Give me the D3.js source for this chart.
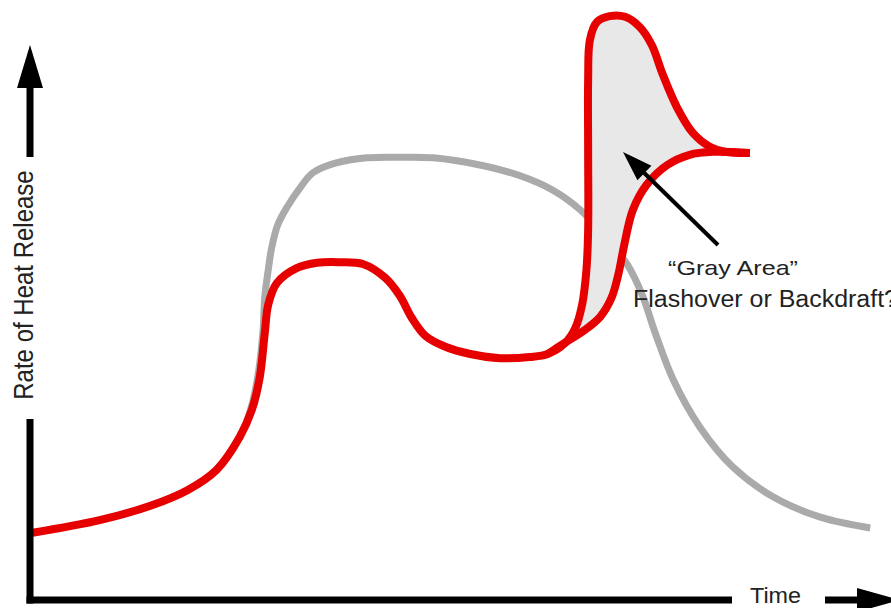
<!DOCTYPE html>
<html>
<head>
<meta charset="utf-8">
<script src="https://cdn.jsdelivr.net/npm/d3@7"></script>
<style>
  body { margin: 0; background: #fff; }
  svg { display: block; font-family: "Liberation Sans", Arial, sans-serif; }
</style>
</head>
<body>
<div id="chart"></div>
<script>
// Normal fire development (gray) : [time, rate of heat release]
const normalFire = [
    [0.3, 11.2], [8.1, 13.3], [14.0, 15.7], [18.3, 18.3], [21.7, 21.7], [24.4, 27.2],
    [25.8, 32.5], [26.6, 38.3], [27.1, 45.0], [27.3, 50.5], [27.7, 55.0], [28.1, 58.7],
    [28.8, 62.5], [29.9, 65.5], [31.4, 68.7], [32.9, 71.2], [35.5, 72.8], [39.2, 73.7],
    [43.0, 73.8], [46.9, 73.7], [52.3, 72.5], [57.0, 70.7], [60.8, 68.3], [64.0, 65.0],
    [67.2, 60.0], [69.5, 55.8], [71.2, 50.8], [72.7, 44.5], [74.8, 36.7], [77.9, 28.8],
    [81.7, 22.2], [86.4, 17.2], [91.9, 13.8], [97.7, 12.0]
];

// Ventilation limited fire (red), up to where it splits
const limitedFire = [
    [0.3, 11.2], [8.1, 13.3], [14.0, 15.7], [18.3, 18.3], [21.7, 21.7], [24.4, 27.2],
    [25.8, 31.7], [26.7, 37.0], [27.3, 44.5], [27.7, 49.2], [28.7, 52.8], [31.0, 55.3],
    [33.4, 56.2], [36.0, 56.3], [38.7, 56.0], [41.3, 53.7], [43.0, 50.7], [44.4, 47.0],
    [46.0, 44.0], [48.3, 42.2], [51.2, 41.0], [54.7, 40.3], [58.1, 40.5], [60.2, 41.0]
];

// upper branch: sudden flare up
const upperBranch = [
    [60.2, 41.0], [62.2, 42.8], [63.4, 45.3], [64.2, 49.2], [64.7, 55.0], [64.9, 61.7],
    [64.9, 75.0], [64.9, 86.7], [65.1, 93.3], [65.9, 96.3], [67.4, 97.3], [69.2, 97.2],
    [70.9, 95.5], [72.3, 92.5], [73.6, 87.5], [75.2, 82.2], [77.1, 77.8], [79.1, 75.5],
    [80.8, 74.7], [83.7, 74.5]
];

// lower branch
const lowerBranch = [
    [60.2, 41.0], [62.0, 42.7], [64.5, 45.0], [66.3, 47.2], [67.6, 50.3], [68.4, 54.2],
    [69.1, 59.2], [70.1, 65.0], [71.7, 69.2], [74.1, 72.5], [76.7, 74.2], [79.4, 74.7],
    [83.7, 74.5]
];

const yLabel = 'Rate of Heat Release';
const xLabel = 'Time';
const noteLines = ['\u201CGray Area\u201D', 'Flashover or Backdraft?'];

const width = 891, height = 608;

const x = d3.scaleLinear().domain([0, 100]).range([30, 890]);
const y = d3.scaleLinear().domain([0, 100]).range([600, 0]);

const svg = d3.select('#chart')
    .append('svg')
    .attr('width', width)
    .attr('height', height);

const line = d3.line()
    .x(d => x(d[0]))
    .y(d => y(d[1]))
    .curve(d3.curveCatmullRom.alpha(0.5));

// gray normal curve
svg.append('path')
    .attr('d', line(normalFire))
    .attr('fill', 'none')
    .attr('stroke', '#aaaaaa')
    .attr('stroke-width', 7);

// shaded "gray area" between branches
svg.append('path')
    .attr('d', line(upperBranch.concat(lowerBranch.slice().reverse())) + 'Z')
    .attr('fill', '#e8e8e8')
    .attr('stroke', 'none');

// red curve
const red = '#e60000';
svg.append('path')
    .attr('d', line(limitedFire.concat(upperBranch.slice(1))))
    .attr('fill', 'none')
    .attr('stroke', red)
    .attr('stroke-width', 8)
    .attr('stroke-linejoin', 'round');

svg.append('path')
    .attr('d', line(lowerBranch))
    .attr('fill', 'none')
    .attr('stroke', red)
    .attr('stroke-width', 8);

// axes
const x0 = x(0), y0 = y(0);

// y axis, broken by the label
svg.append('line')
    .attr('x1', x0).attr('x2', x0)
    .attr('y1', 85).attr('y2', 157)
    .attr('stroke', '#000').attr('stroke-width', 7);
svg.append('line')
    .attr('x1', x0).attr('x2', x0)
    .attr('y1', 419).attr('y2', y0 + 3.5)
    .attr('stroke', '#000').attr('stroke-width', 7);
svg.append('path')
    .attr('d', `M${x0},45 L${x0 - 13},88 L${x0 + 13},88 Z`)
    .attr('fill', '#000');

// x axis, broken by the label
svg.append('line')
    .attr('x1', x0 - 3.5).attr('x2', 732)
    .attr('y1', y0).attr('y2', y0)
    .attr('stroke', '#000').attr('stroke-width', 7);
svg.append('line')
    .attr('x1', 825).attr('x2', 862)
    .attr('y1', y0).attr('y2', y0)
    .attr('stroke', '#000').attr('stroke-width', 7);
svg.append('path')
    .attr('d', `M900,${y0} L857,${y0 - 12} L857,${y0 + 12} Z`)
    .attr('fill', '#000');

// axis labels
svg.append('text')
    .attr('transform', `translate(33,285) scale(1.15,1) rotate(-90)`)
    .attr('text-anchor', 'middle')
    .attr('font-size', 24)
    .attr('fill', '#222')
    .text(yLabel);

svg.append('text')
    .attr('x', 750)
    .attr('y', 603)
    .attr('font-size', 22)
    .attr('textLength', 51)
    .attr('lengthAdjust', 'spacingAndGlyphs')
    .attr('fill', '#222')
    .text(xLabel);

// annotation arrow
svg.append('line')
    .attr('x1', 718).attr('y1', 245)
    .attr('x2', 633).attr('y2', 162)
    .attr('stroke', '#000').attr('stroke-width', 4);
const ang = Math.atan2(152 - 245, 623 - 718);
const tipX = 623, tipY = 152, len = 30, hw = 10;
const bx = tipX - len * Math.cos(ang), by = tipY - len * Math.sin(ang);
svg.append('path')
    .attr('d', `M${tipX},${tipY} L${bx + hw * Math.sin(ang)},${by - hw * Math.cos(ang)} L${bx - hw * Math.sin(ang)},${by + hw * Math.cos(ang)} Z`)
    .attr('fill', '#000');

svg.append('text')
    .attr('x', 668).attr('y', 275)
    .attr('font-size', 21)
    .attr('textLength', 130)
    .attr('lengthAdjust', 'spacingAndGlyphs')
    .attr('fill', '#222')
    .text(noteLines[0]);

svg.append('text')
    .attr('x', 633).attr('y', 307)
    .attr('font-size', 23)
    .attr('textLength', 265)
    .attr('lengthAdjust', 'spacingAndGlyphs')
    .attr('fill', '#222')
    .text(noteLines[1]);
</script>
</body>
</html>
